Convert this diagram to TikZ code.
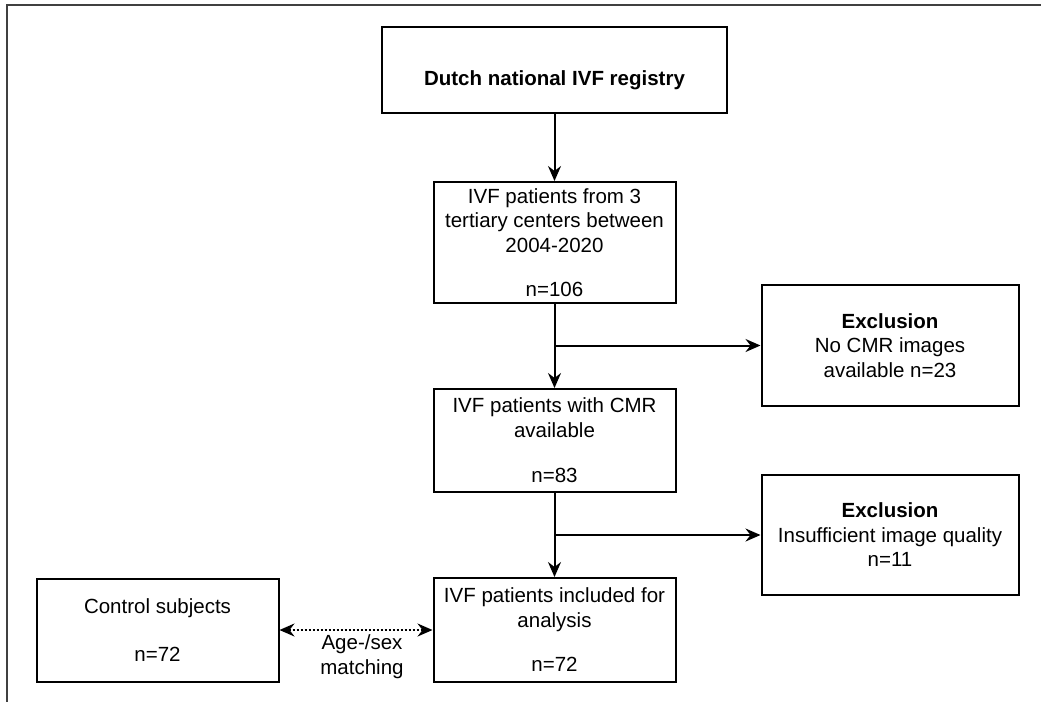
\documentclass[tikz,border=0pt]{standalone}
\usepackage{fontspec}
\setmainfont{Liberation Sans}
\usetikzlibrary{arrows.meta}
\begin{document}
\begin{tikzpicture}[>={Stealth[length=15pt,width=13pt,inset=5pt]}, x=1pt, y=1pt, line width=2pt,
  box/.style={draw, rectangle, align=center, inner sep=0pt, minimum width=242pt, font={\fontsize{20.5}{24.5}\selectfont}}]
\useasboundingbox (0,0) rectangle (1041,-702);
\draw[black!75, line width=1.8pt] (1041,-5) -- (7,-5) -- (7,-702);
\node[box, minimum width=345pt, minimum height=86pt, text height=35pt, text depth=4pt] (1) at (554.5,-70) {\textbf{Dutch national IVF registry}};
\node[box, minimum height=121pt, below of=1, node distance=172.5pt] (2) {IVF patients from 3\\tertiary centers between\\2004-2020\\[20pt]n=106};
\node[box, minimum height=103pt, below of=2, node distance=198pt] (3) {IVF patients with CMR\\available\\[21pt]n=83};
\node[box, minimum height=104pt, below of=3, node distance=189.5pt] (4) {IVF patients included for\\analysis\\[20pt]n=72};
\node[box, minimum width=257pt, minimum height=121pt, right of=2, node distance=335.5pt, yshift=-103pt] (5) {\textbf{Exclusion}\\No CMR images\\available n=23};
\node[box, minimum width=257pt, minimum height=120pt, right of=3, node distance=335.5pt, yshift=-94.5pt] (6) {\textbf{Exclusion}\\Insufficient image quality\\n=11};
\node[box, minimum height=103pt, left of=4, node distance=397pt] (7) {Control subjects\\[24pt]n=72};
\coordinate (b1) at (2.south |- 5.west);
\coordinate (b2) at (3.south |- 6.west);
\draw[->] (1) -- (2);
\draw[->] (2) -- (3);
\draw[->] (b1) -- (5);
\draw[->] (3) -- (4);
\draw[->] (b2) -- (6);
\draw[<->, dotted] (7) -- node[below, align=center, inner sep=4pt, xshift=6pt, font={\fontsize{20.5}{24.5}\selectfont}] {Age-/sex\\matching} (4);
\end{tikzpicture}
\end{document}
